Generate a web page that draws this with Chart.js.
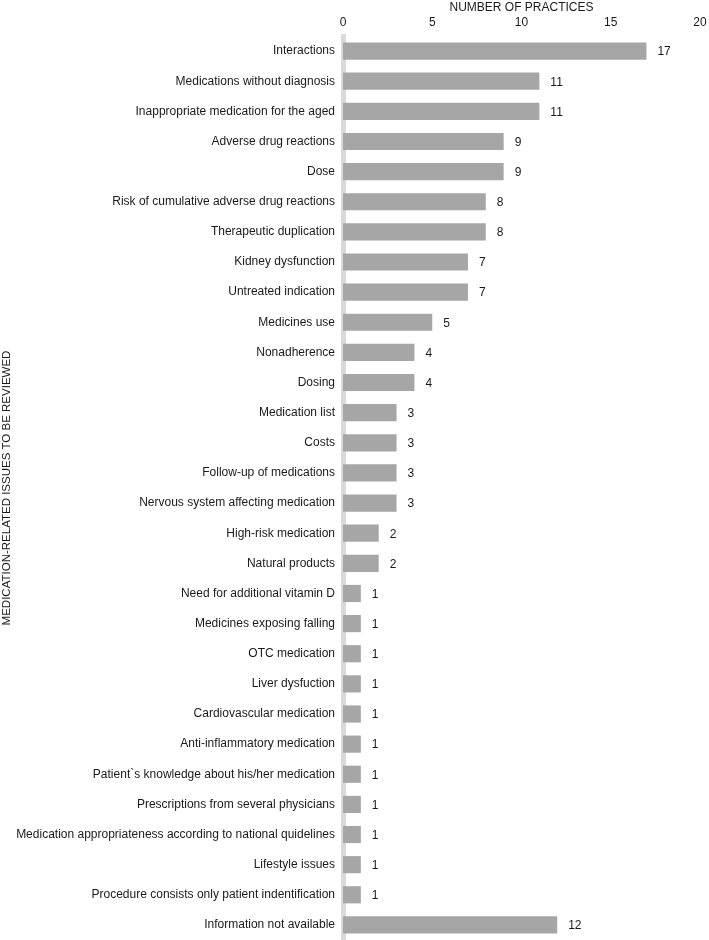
<!DOCTYPE html>
<html>
<head>
<meta charset="utf-8">
<script src="https://cdn.jsdelivr.net/npm/chart.js@4"></script>
<style>
  html, body { margin: 0; padding: 0; background: #fff; }
  #wrap { width: 709px; height: 940px; position: relative; }
</style>
</head>
<body>
<div id="wrap"><canvas id="c"></canvas></div>
<script>
const categories = [
  'Interactions',
  'Medications without diagnosis',
  'Inappropriate medication for the aged',
  'Adverse drug reactions',
  'Dose',
  'Risk of cumulative adverse drug reactions',
  'Therapeutic duplication',
  'Kidney dysfunction',
  'Untreated indication',
  'Medicines use',
  'Nonadherence',
  'Dosing',
  'Medication list',
  'Costs',
  'Follow-up of medications',
  'Nervous system affecting medication',
  'High-risk medication',
  'Natural products',
  'Need for additional vitamin D',
  'Medicines exposing falling',
  'OTC medication',
  'Liver dysfuction',
  'Cardiovascular medication',
  'Anti-inflammatory medication',
  'Patient`s knowledge about his/her medication',
  'Prescriptions from several physicians',
  'Medication appropriateness according to national quidelines',
  'Lifestyle issues',
  'Procedure consists only patient indentification',
  'Information not available'
];
const practices = [17, 11, 11, 9, 9, 8, 8, 7, 7, 5, 4, 4, 3, 3, 3, 3, 2, 2, 1, 1, 1, 1, 1, 1, 1, 1, 1, 1, 1, 12];
const xTicks = [0, 5, 10, 15, 20];

const FONT = 'Liberation Sans, Arial, sans-serif';
const TEXT = '#1a1a1a';

// value printed to the right of each bar
const valueLabels = {
  id: 'valueLabels',
  afterDatasetsDraw(chart) {
    const ctx = chart.ctx;
    const meta = chart.getDatasetMeta(0);
    ctx.save();
    ctx.font = '12px ' + FONT;
    ctx.fillStyle = TEXT;
    ctx.textAlign = 'left';
    ctx.textBaseline = 'middle';
    meta.data.forEach((bar, i) => {
      ctx.fillText(String(practices[i]), bar.x + 11, bar.y + 1);
    });
    ctx.restore();
  }
};

new Chart(document.getElementById('c'), {
  type: 'bar',
  data: {
    labels: categories,
    datasets: [{
      label: 'Number of practices',
      data: practices,
      backgroundColor: '#a6a6a6',
      borderWidth: 0,
      barPercentage: 0.57,
      categoryPercentage: 1
    }]
  },
  options: {
    indexAxis: 'y',
    responsive: true,
    maintainAspectRatio: false,
    animation: false,
    layout: { padding: 0 },
    plugins: {
      legend: { display: false },
      tooltip: { enabled: false }
    },
    scales: {
      x: {
        position: 'top',
        min: 0,
        max: 20,
        afterBuildTicks: (s) => { s.ticks = xTicks.map(v => ({ value: v })); },
        grid: { display: false, drawTicks: false },
        border: { display: false },
        ticks: { color: TEXT, font: { family: FONT, size: 12 }, padding: 6 },
        title: {
          display: true,
          text: 'NUMBER OF PRACTICES',
          color: TEXT,
          font: { family: FONT, size: 12 },
          padding: { top: 0, bottom: 0 }
        },
        afterFit: (s) => { s.height = 36; s.paddingLeft = 0; s.paddingRight = 9; }
      },
      y: {
        grid: { display: false, drawTicks: false },
        border: { display: true, color: '#d9d9d9', width: 5 },
        ticks: { color: TEXT, font: { family: FONT, size: 12 }, padding: 8, autoSkip: false },
        title: {
          display: true,
          text: 'MEDICATION-RELATED ISSUES TO BE REVIEWED',
          color: TEXT,
          font: { family: FONT, size: 11.5 },
          padding: { top: 0, bottom: 0 }
        },
        afterFit: (s) => { s.width = 343; s.paddingTop = 0; s.paddingBottom = 0; }
      }
    }
  },
  plugins: [valueLabels]
});
</script>
</body>
</html>
